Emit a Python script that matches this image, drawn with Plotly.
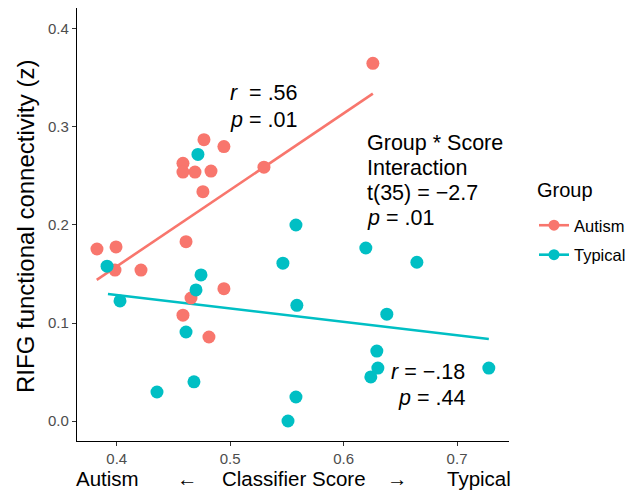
import plotly.graph_objects as go

# ---- data ----
autism_x = [0.3826, 0.3994, 0.3985, 0.4214, 0.4611, 0.4655, 0.4584, 0.4813, 0.4945,
            0.4584, 0.4584, 0.4690, 0.4831, 0.4769, 0.4945, 0.4760, 0.5298, 0.6258]
autism_y = [0.1755, 0.1776, 0.154, 0.154, 0.183, 0.1255, 0.108, 0.0857, 0.135,
            0.263, 0.254, 0.254, 0.255, 0.287, 0.280, 0.234, 0.259, 0.365]
typical_x = [0.4716, 0.3915, 0.4029, 0.4743, 0.4699, 0.4611, 0.4355, 0.4681, 0.5580, 0.5465,
             0.5588, 0.5580, 0.5510, 0.6196, 0.6646, 0.6381, 0.6293, 0.6302, 0.6240, 0.7280]
typical_y = [0.272, 0.158, 0.1225, 0.149, 0.1337, 0.0908, 0.0296, 0.040, 0.200, 0.161,
             0.118, 0.0245, 0.0, 0.1765, 0.162, 0.109, 0.0714, 0.054, 0.045, 0.054]
autism_fit_x = [0.3824, 0.6258]
autism_fit_y = [0.144, 0.334]
typical_fit_x = [0.3923, 0.7280]
typical_fit_y = [0.1296, 0.0837]
x_ticks = [0.4, 0.5, 0.6, 0.7]
y_ticks = [0.0, 0.1, 0.2, 0.3, 0.4]
groups = ["Autism", "Typical"]

RED = "#F8766D"
CYAN = "#00BFC4"
FONT = "Liberation Sans, Arial, sans-serif"

# the page body margin is removed by a post script, so the figure fills the window
W, H = 628, 491
L, R, T, B = 77, 119, 8, 50
PW, PH = W - L - R, H - T - B


def paper_x(page_px):
    return (page_px - L) / PW


def paper_y(page_py):
    return (H - B - page_py) / PH


fig = go.Figure()
fig.add_trace(go.Scatter(x=autism_fit_x, y=autism_fit_y, mode="lines",
                         line=dict(color=RED, width=2.6), showlegend=False, hoverinfo="skip"))
fig.add_trace(go.Scatter(x=typical_fit_x, y=typical_fit_y, mode="lines",
                         line=dict(color=CYAN, width=2.6), showlegend=False, hoverinfo="skip"))
fig.add_trace(go.Scatter(x=autism_x, y=autism_y, mode="markers",
                         marker=dict(color=RED, size=13), showlegend=False))
fig.add_trace(go.Scatter(x=typical_x, y=typical_y, mode="markers",
                         marker=dict(color=CYAN, size=13), showlegend=False))
# legend entries
for name, col in zip(groups, [RED, CYAN]):
    fig.add_trace(go.Scatter(x=[None], y=[None], mode="lines+markers", name=name,
                             legendgroup=name,
                             line=dict(color=col, width=2.6),
                             marker=dict(color=col, size=11)))

ann_font = dict(family=FONT, size=21.5, color="black")
anns = [
    dict(x=0.4981, y=0.3347, text="<i>r</i>  = .56", xanchor="left"),
    dict(x=0.4981, y=0.307, text="<i>p</i> = .01", xanchor="left"),
    dict(x=0.6187, y=0.2837, text="Group * Score", xanchor="left"),
    dict(x=0.6187, y=0.258, text="Interaction", xanchor="left"),
    dict(x=0.6187, y=0.2327, text="t(35) = \u22122.7", xanchor="left"),
    dict(x=0.6187, y=0.207, text="<i>p</i> = .01", xanchor="left"),
    dict(x=0.7090, y=0.050, text="<i>r</i> = \u2212.18", xanchor="right"),
    dict(x=0.7090, y=0.0235, text="<i>p</i> = .44", xanchor="right"),
]
for a in anns:
    fig.add_annotation(xref="x", yref="y", yanchor="middle", showarrow=False,
                       font=ann_font, **a)

xt_font = dict(family=FONT, size=20.5, color="black")
for txt, cx in [("Autism", 107), ("\u2190", 187), ("Classifier Score", 294),
                ("\u2192", 397), ("Typical", 479)]:
    fig.add_annotation(xref="paper", yref="paper", x=paper_x(cx), y=paper_y(478), text=txt,
                       showarrow=False, xanchor="center", yanchor="middle", font=xt_font)

fig.add_annotation(xref="paper", yref="paper", x=paper_x(25), y=paper_y(227),
                   text="RIFG functional connectivity (z)", textangle=-90, showarrow=False,
                   xanchor="center", yanchor="middle",
                   font=dict(family=FONT, size=24, color="black"))

# legend title
fig.add_annotation(xref="paper", yref="paper", x=paper_x(564.5), y=paper_y(190),
                   text="Group", showarrow=False, xanchor="center", yanchor="middle",
                   font=dict(family=FONT, size=20, color="black"))

axis_common = dict(showgrid=False, zeroline=False, showline=True, linecolor="black",
                   linewidth=1.2, ticks="outside", ticklen=4, tickcolor="#333333",
                   tickwidth=1.1, tickfont=dict(family=FONT, size=15, color="#4d4d4d"),
                   tickformat=".1f")
fig.update_xaxes(range=[0.365, 0.7458], tickvals=x_ticks, **axis_common)
fig.update_yaxes(range=[-0.0204, 0.4214], tickvals=y_ticks, **axis_common)

fig.update_layout(
    width=W, height=H,
    margin=dict(l=L, r=R, t=T, b=B, autoexpand=False),
    plot_bgcolor="white", paper_bgcolor="white",
    legend=dict(font=dict(family=FONT, size=16.5, color="black"),
                x=paper_x(534), y=paper_y(208), xanchor="left", yanchor="top",
                traceorder="grouped", tracegroupgap=5, itemwidth=30),
)

fig.write_html("out.html", config={"displayModeBar": False},
               post_script="document.body.style.margin='0';document.body.style.padding='0';")
